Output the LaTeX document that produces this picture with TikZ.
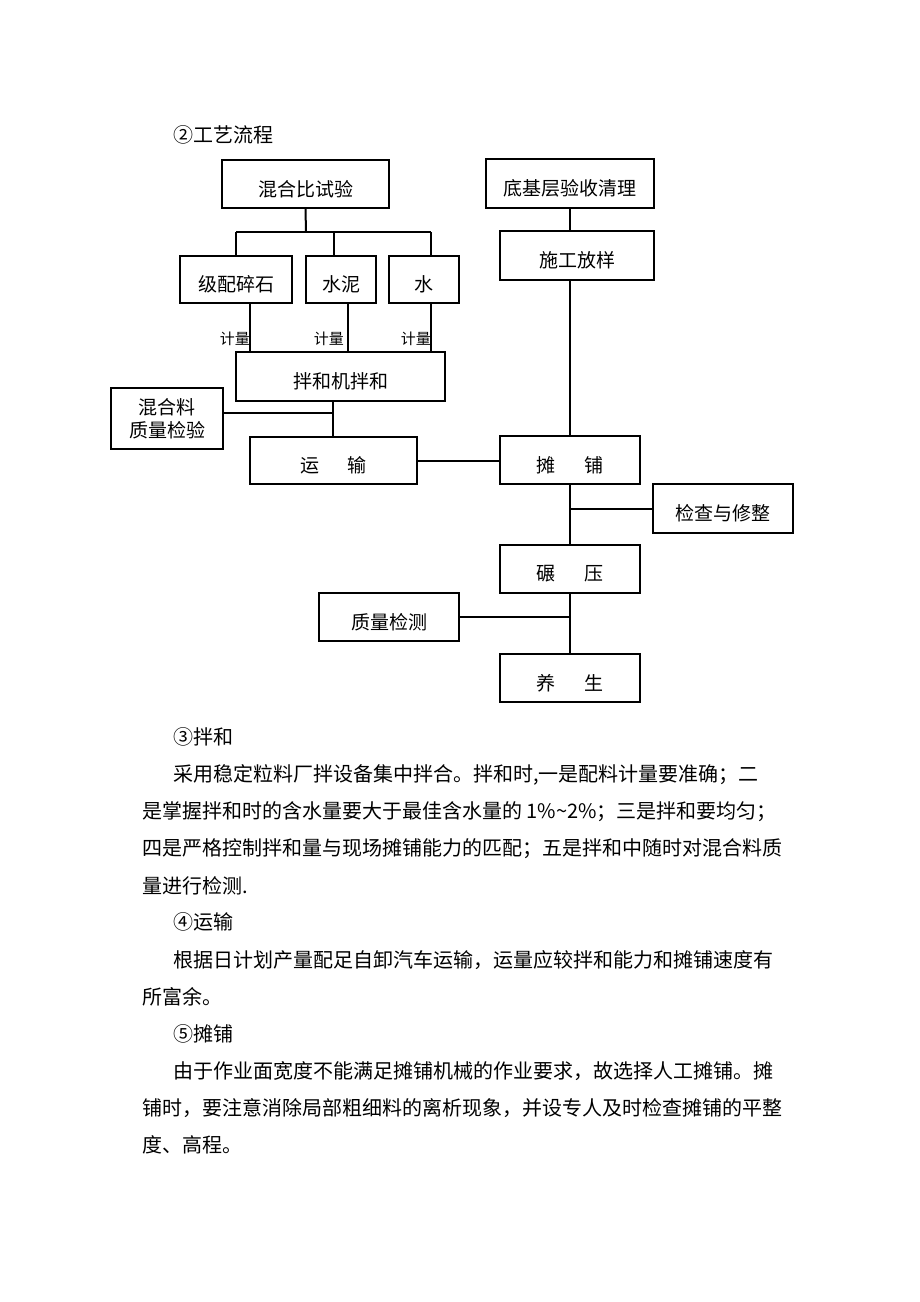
\documentclass[tikz,border=0pt]{standalone}
\usepackage{fontspec}
\setmainfont{Noto Sans CJK SC}
\newcommand{\dn}[1]{\raisebox{-5pt}[\height][\depth]{#1}}
\begin{document}
\begin{tikzpicture}[x=1pt,y=-1pt,
  box/.style={draw=black,line width=2.2pt,rectangle,inner sep=0pt,font=\fontsize{19}{23}\selectfont,align=center},
  conn/.style={draw=black,line width=2pt},
  lbl/.style={inner sep=0pt,font=\fontsize{15}{15}\selectfont,anchor=east},
  txt/.style={inner sep=0pt,anchor=west,font=\fontsize{20}{20}\selectfont}]
\fill[white] (0,0) rectangle (920,1302);
\useasboundingbox (0,0) rectangle (920,1302);
% title
\node[txt] (t2) at (173,135) {②工艺流程};
% boxes
\node[box,minimum width=167,minimum height=48] (mix) at (305.5,184) {\dn{混合比试验}};
\node[box,minimum width=168,minimum height=49] (base) at (570,183.5) {\dn{底基层验收清理}};
\node[box,minimum width=154,minimum height=49] (layout) at (577,255.5) {\dn{施工放样}};
\node[box,minimum width=112,minimum height=47] (jp) at (236,279.5) {\dn{级配碎石}};
\node[box,minimum width=70,minimum height=47] (sn) at (341,279.5) {\dn{水泥}};
\node[box,minimum width=70,minimum height=47] (water) at (424,279.5) {\dn{水}};
\node[box,minimum width=209,minimum height=49] (mixer) at (340.5,376.5) {\dn{拌和机拌和}};
\node[box,minimum width=112,minimum height=61] (qc) at (167,418.5) {混合料\\质量检验};
\node[box,minimum width=167,minimum height=47] (transport) at (333.5,460.5) {\dn{运\hspace{1.5em}输}};
\node[box,minimum width=140,minimum height=48] (spread) at (570,460) {\dn{摊\hspace{1.5em}铺}};
\node[box,minimum width=140,minimum height=49] (check) at (723,508.5) {\dn{检查与修整}};
\node[box,minimum width=140,minimum height=48] (roll) at (570,569) {\dn{碾\hspace{1.5em}压}};
\node[box,minimum width=140,minimum height=48] (qd) at (389,617) {\dn{质量检测}};
\node[box,minimum width=140,minimum height=48] (cure) at (570,678) {\dn{养\hspace{1.5em}生}};
% helper coordinates
\coordinate (bmid) at (306,232);
\coordinate (b1) at (236,232);
\coordinate (b2) at (334,232);
\coordinate (b3) at (431,232);
\coordinate (m1) at (250,340);
\coordinate (m2) at (348,340);
\coordinate (m3) at (431,340);
\coordinate (j1) at (333,413);
\coordinate (j2) at (570,509);
\coordinate (j3) at (570,617);
% connectors
\draw[conn] (mix.south) -- (bmid);
\draw[conn] (b1) -- (b3);
\draw[conn] (b1) -- (b1 |- jp.north);
\draw[conn] (b2) -- (b2 |- sn.north);
\draw[conn] (b3) -- (b3 |- water.north);
\draw[conn] (jp.south -| m1) -- (mixer.north -| m1);
\draw[conn] (sn.south -| m2) -- (mixer.north -| m2);
\draw[conn] (water.south -| m3) -- (mixer.north -| m3);
\node[lbl] (l1) at (250,339) {计量};
\node[lbl] (l2) at (344,339) {计量};
\node[lbl] (l3) at (431,339) {计量};
\draw[conn] (mixer.south -| j1) -- (transport.north -| j1);
\draw[conn] (qc.east |- j1) -- (j1);
\draw[conn] (transport.east) -- (transport.east -| spread.west);
\draw[conn] (base.south) -- (layout.north -| base.south);
\draw[conn] (layout.south -| spread.north) -- (spread.north);
\draw[conn] (spread.south) -- (roll.north);
\draw[conn] (j2) -- (check.west |- j2);
\draw[conn] (roll.south) -- (cure.north);
\draw[conn] (j3) -- (qd.east |- j3);
% body text
\node[txt] (p3) at (173,737) {③拌和};
\node[txt] (a1) at (173,775) {采用稳定粒料厂拌设备集中拌合。拌和时,一是配料计量要准确；二};
\node[txt] (a2) at (142,812) {是掌握拌和时的含水量要大于最佳含水量的 1\%\textasciitilde2\%；三是拌和要均匀；};
\node[txt] (a3) at (142,849) {四是严格控制拌和量与现场摊铺能力的匹配；五是拌和中随时对混合料质};
\node[txt] (a4) at (142,886) {量进行检测.};
\node[txt] (p4) at (173,922) {④运输};
\node[txt] (b1t) at (173,960) {根据日计划产量配足自卸汽车运输，运量应较拌和能力和摊铺速度有};
\node[txt] (b2t) at (142,997) {所富余。};
\node[txt] (p5) at (173,1034) {⑤摊铺};
\node[txt] (c1t) at (173,1071) {由于作业面宽度不能满足摊铺机械的作业要求，故选择人工摊铺。摊};
\node[txt] (c2t) at (142,1108) {铺时，要注意消除局部粗细料的离析现象，并设专人及时检查摊铺的平整};
\node[txt] (c3t) at (142,1145) {度、高程。};
\end{tikzpicture}
\end{document}
